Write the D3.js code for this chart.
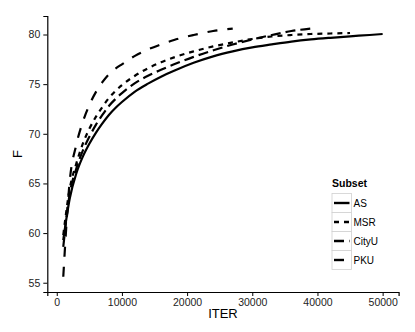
<!DOCTYPE html>
<html>
<head>
<meta charset="utf-8">
<script src="https://cdn.jsdelivr.net/npm/d3@7"></script>
<style>
    body { margin: 0; background: #fff; }
    text { font-family: "Liberation Sans", Arial, sans-serif; }
</style>
</head>
<body>
<div id="chart"></div>
<script>
// iterations shared by every subset, each series stops where its run stopped
let iters = [1000, 2000, 3000, 4000, 5000, 6000, 7000, 8000, 9000, 10000,
    12000, 14000, 16000, 18000, 21000, 24000, 27000, 30000, 33000, 36000,
    39000, 42000, 45000, 48000, 50000];

let asF = [59.3, 63.5, 66.0, 67.7, 69.0, 70.1, 71.05, 71.9, 72.6, 73.2,
    74.25, 75.05, 75.75, 76.35, 77.15, 77.8, 78.3, 78.7, 79.0, 79.28,
    79.5, 79.67, 79.82, 79.95, 80.05];
let msrF = [59.8, 64.5, 67.0, 69.0, 70.5, 71.7, 72.7, 73.6, 74.3, 74.9,
    75.85, 76.6, 77.2, 77.7, 78.3, 78.8, 79.2, 79.55, 79.8, 79.95,
    80.05, 80.1, 80.15];
let cityuF = [58.6, 64.0, 66.5, 68.3, 69.7, 70.9, 71.9, 72.8, 73.5, 74.1,
    75.1, 75.85, 76.45, 77.0, 77.75, 78.4, 79.0, 79.5, 79.95, 80.35,
    80.6];
let pkuF = [55.6, 65.3, 68.9, 71.2, 72.9, 74.2, 75.2, 76.0, 76.55, 77.0,
    77.85, 78.5, 79.0, 79.45, 79.95, 80.35, 80.6];

let subsets = ["AS", "MSR", "CityU", "PKU"];
let xTicks = [0, 10000, 20000, 30000, 40000, 50000];
let yTicks = [55, 60, 65, 70, 75, 80];

let width = 415,
    height = 332,
    panel = {left: 47.3, right: 398.6, top: 16, bottom: 292};

let series = [asF, msrF, cityuF, pkuF].map(function (vals, i) {
    return {
        name: subsets[i],
        points: vals.map(function (v, j) {
            return {iter: iters[j], f: v};
        })
    };
});

let dashes = {
    "AS": null,
    "MSR": "5,5",
    "CityU": "10,5",
    "PKU": "10,10"
};

let svg = d3.select("#chart")
    .append("svg")
    .attr("width", width)
    .attr("height", height);

// ggplot style 5% expansion of the data range
let xExt = [1000, 50000],
    yExt = [55.33, 80.6];
let xPad = (xExt[1] - xExt[0]) * 0.05,
    yPad = (yExt[1] - yExt[0]) * 0.05;

let x = d3.scaleLinear()
    .domain([xExt[0] - xPad, xExt[1] + xPad])
    .range([panel.left, panel.right]);

let y = d3.scaleLinear()
    .domain([yExt[0] - yPad, yExt[1] + yPad])
    .range([panel.bottom, panel.top]);

let xAxis = svg.append("g")
    .attr("transform", "translate(0," + panel.bottom + ")")
    .call(d3.axisBottom(x).tickValues(xTicks).tickSize(4).tickPadding(3).tickFormat(d3.format("d")));

let yAxis = svg.append("g")
    .attr("transform", "translate(" + panel.left + ",0)")
    .call(d3.axisLeft(y).tickValues(yTicks).tickSize(4).tickPadding(3));

[xAxis, yAxis].forEach(function (g) {
    g.select(".domain").attr("stroke", "#000").attr("stroke-width", 1.2);
    g.selectAll(".tick line").attr("stroke", "#000").attr("stroke-width", 1);
    g.selectAll(".tick text")
        .attr("fill", "#222")
        .style("font-size", "10.5px")
        .style("font-family", "'Liberation Sans', Arial, sans-serif");
});

svg.append("text")
    .attr("x", (panel.left + panel.right) / 2)
    .attr("y", 318)
    .attr("text-anchor", "middle")
    .style("font-size", "13px")
    .text("ITER");

svg.append("text")
    .attr("transform", "translate(22," + ((panel.top + panel.bottom) / 2) + ") rotate(-90)")
    .attr("text-anchor", "middle")
    .style("font-size", "13px")
    .text("F");

let line = d3.line()
    .x(function (d) { return x(d.iter); })
    .y(function (d) { return y(d.f); })
    .curve(d3.curveMonotoneX);

svg.selectAll(".curve")
    .data(series)
    .enter()
    .append("path")
    .attr("class", "curve")
    .attr("d", function (d) { return line(d.points); })
    .attr("fill", "none")
    .attr("stroke", "#000")
    .attr("stroke-width", 2.2)
    .attr("stroke-dasharray", function (d) { return dashes[d.name]; });

// legend
let legend = svg.append("g")
    .attr("transform", "translate(332,0)");

legend.append("text")
    .attr("x", 0)
    .attr("y", 187)
    .style("font-size", "10.5px")
    .style("font-weight", "bold")
    .text("Subset");

let keys = legend.selectAll(".key")
    .data(subsets)
    .enter()
    .append("g")
    .attr("class", "key")
    .attr("transform", function (d, i) {
        return "translate(0," + (193.5 + i * 19) + ")";
    });

keys.append("rect")
    .attr("width", 19.5)
    .attr("height", 19)
    .attr("fill", "#fff")
    .attr("stroke", "#d0d0d0")
    .attr("stroke-width", 0.8);

keys.append("line")
    .attr("x1", 2)
    .attr("x2", 17.5)
    .attr("y1", 9.5)
    .attr("y2", 9.5)
    .attr("stroke", "#000")
    .attr("stroke-width", 2.4)
    .attr("stroke-dasharray", function (d) { return dashes[d]; });

keys.append("text")
    .attr("x", 21.5)
    .attr("y", 13.3)
    .style("font-size", "10px")
    .text(function (d) { return d; });
</script>
</body>
</html>
